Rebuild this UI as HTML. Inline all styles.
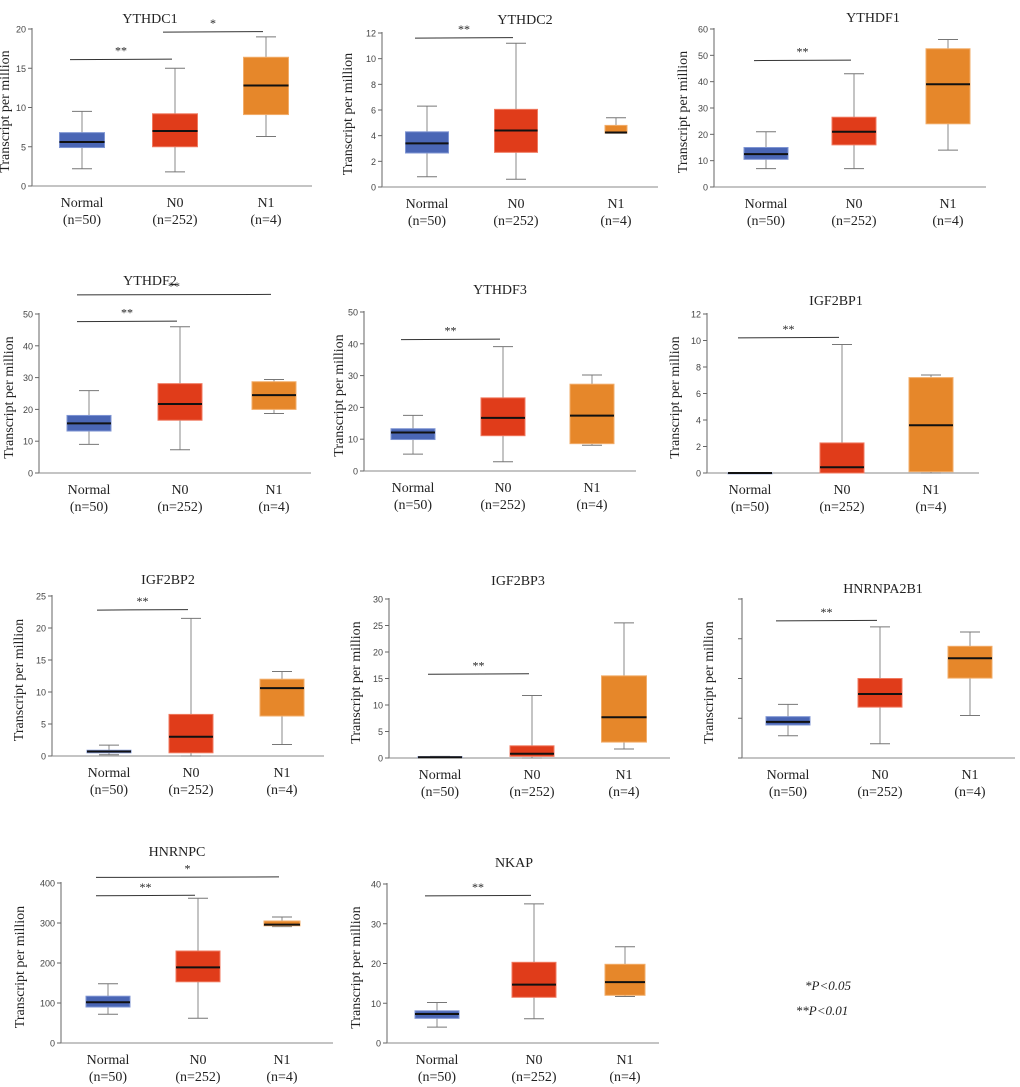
<!DOCTYPE html>
<html><head><meta charset="utf-8">
<style>
html,body{margin:0;padding:0;background:#fff;}
svg{display:block;}
text{font-family:"Liberation Serif",serif;fill:#222;}
.tick{font-family:"Liberation Sans",sans-serif;font-size:9px;fill:#444;}
</style></head>
<body>
<svg id="fig" width="1020" height="1087" viewBox="0 0 1020 1087" xmlns="http://www.w3.org/2000/svg"></svg>
<script>
const categories = ["Normal","N0","N1"];
const sampleCounts = ["(n=50)","(n=252)","(n=4)"];
const geneNames = ["YTHDC1","YTHDC2","YTHDF1","YTHDF2","YTHDF3","IGF2BP1","IGF2BP2","IGF2BP3","HNRNPA2B1","HNRNPC","NKAP"];
const yAxisMax = [20,12,60,50,50,12,25,30,4,400,40];
const tickStep = [5,2,10,10,10,2,5,5,1,100,10];
const showTickLabels = [1,1,1,1,1,1,1,1,0,1,1];
// per panel: [Normal, N0, N1]
const whiskerLow = [[2.2,1.8,6.3],[0.8,0.6,4.2],[7,7,14],[9,7.3,18.7],[5.3,2.9,8.1],[0,0,0],[0.2,0,1.8],[0,0,1.7],[0.56,0.36,1.07],[72,62,291],[4,6.1,11.7]];
const q1Values = [[4.9,5.0,9.1],[2.65,2.7,4.2],[10.5,16,24],[13.2,16.6,20],[9.9,11.1,8.6],[0,0,0.1],[0.5,0.5,6.25],[0.1,0.3,3.0],[0.83,1.28,2.01],[90,153,293],[6.2,11.5,12.0]];
const medianValues = [[5.6,7.0,12.8],[3.4,4.4,4.25],[12.5,21,39],[15.6,21.7,24.5],[12.1,16.7,17.4],[0,0.43,3.6],[0.7,3.0,10.6],[0.15,0.8,7.7],[0.91,1.61,2.51],[102,189,296],[7.3,14.7,15.3]];
const q3Values = [[6.8,9.2,16.4],[4.3,6.05,4.8],[15,26.5,52.5],[18.1,28.1,28.7],[13.3,23,27.3],[0,2.27,7.2],[0.9,6.5,12],[0.25,2.3,15.5],[1.04,2.0,2.81],[117,230,305],[8.1,20.3,19.8]];
const whiskerHigh = [[9.5,15,19],[6.3,11.2,5.4],[21,43,56],[25.9,46,29.4],[17.5,39.1,30.2],[0,9.7,7.4],[1.7,21.5,13.2],[0.3,11.8,25.5],[1.35,3.3,3.17],[148,362,315],[10.2,35,24.2]];
// significance bars
const sigPanels = [0,0,1,2,3,3,4,5,6,7,8,9,9,10];
const sigFrom = [0,1,0,0,0,0,0,0,0,0,0,0,0,0];
const sigTo = [1,2,1,1,1,2,1,1,1,1,1,1,2,1];
const sigValue = [16.1,19.6,11.6,48,47.6,56,41.3,10.2,22.8,15.8,3.45,368,414,37];
const sigLabel = ["**","*","**","**","**","**","**","**","**","**","**","**","*","**"];

// layout (positions only)
const layout = [
 {ax:32, y0:186, yt:29, cx:[82,175,266], tx:150, ty:18, w:[45,45,45], yx:4, xl:280},
 {ax:382, y0:187, yt:33, cx:[427,516,616], tx:525, ty:19, w:[43,43,22], yx:347, xl:276},
 {ax:714, y0:187, yt:29, cx:[766,854,948], tx:873, ty:17, w:[44,44,44], yx:682, xl:272},
 {ax:39, y0:473, yt:314, cx:[89,180,274], tx:150, ty:280, w:[44,44,44], yx:8, xl:272},
 {ax:364, y0:471, yt:312, cx:[413,503,592], tx:500, ty:289, w:[44,44,44], yx:338, xl:272},
 {ax:707, y0:473, yt:314, cx:[750,842,931], tx:836, ty:300, w:[44,44,44], yx:674, xl:272},
 {ax:52, y0:756, yt:596, cx:[109,191,282], tx:168, ty:579, w:[44,44,44], yx:18, xl:272},
 {ax:389, y0:758, yt:599, cx:[440,532,624], tx:518, ty:580, w:[44,44,45], yx:355, xl:281},
 {ax:742, y0:758, yt:599, cx:[788,880,970], tx:883, ty:588, w:[44,44,44], yx:708, xl:273},
 {ax:61, y0:1043, yt:883, cx:[108,198,282], tx:177, ty:851, w:[44,44,36], yx:19, xl:272},
 {ax:387, y0:1043, yt:884, cx:[437,534,625], tx:514, ty:862, w:[44,44,40], yx:355, xl:272}
];
const fills = ["#4a66b5","#e03c1a","#e6872a"];
const strokes = ["#7f95d3","#f07a60","#f2ad6a"];

const NS = "http://www.w3.org/2000/svg";
const svg = document.getElementById("fig");
function mk(tag, attrs, parent){
  const e = document.createElementNS(NS, tag);
  for (const k in attrs) e.setAttribute(k, attrs[k]);
  (parent||svg).appendChild(e);
  return e;
}

geneNames.forEach((gene, p) => {
  const L = layout[p];
  const g = mk("g", {});
  
  
  const yScale = v => L.y0 - (v / yAxisMax[p]) * (L.y0 - L.yt);

  const title = mk("text", {x:L.tx, y:L.ty+5, "text-anchor":"middle", "font-size":"14"}, g);
  title.textContent = gene;
  
  

  const yax = mk("line", {x1:L.ax, x2:L.ax, y1:L.yt-1, y2:L.y0, stroke:"#666", "stroke-width":1}, g);
  
  
  const xax = mk("line", {x1:L.ax, x2:L.ax+L.xl, y1:L.y0, y2:L.y0, stroke:"#888", "stroke-width":1}, g);
  
  

  for (let v = 0; v <= yAxisMax[p] + 1e-9; v += tickStep[p]) {
    const y = yScale(v);
    const tk = mk("line", {x1:L.ax-4, x2:L.ax, y1:y, y2:y, stroke:"#666"}, g);
    
    
    if (showTickLabels[p]) {
      const t = mk("text", {x:L.ax-6, y:y+3.5, "text-anchor":"end", class:"tick"}, g);
      t.textContent = String(Math.round(v*100)/100);
      
      
    }
  }

  const ytx = L.yx + 5, ytyc = (L.y0 + L.yt)/2 + 4;
  const yt = mk("text", {x:ytx, y:ytyc, "text-anchor":"middle", "font-size":"14", transform:`rotate(-90 ${ytx} ${ytyc})`}, g);
  yt.textContent = "Transcript per million";
  
  

  categories.forEach((cat, i) => {
    const cx = L.cx[i], hw = L.w[i]/2;
    const lo = yScale(whiskerLow[p][i]), q1 = yScale(q1Values[p][i]), md = yScale(medianValues[p][i]), q3 = yScale(q3Values[p][i]), hi = yScale(whiskerHigh[p][i]);
    const wk = mk("line", {x1:cx, x2:cx, y1:hi, y2:lo, stroke:"#888", "stroke-width":1}, g);
    
    
    const capH = mk("line", {x1:cx-10, x2:cx+10, y1:hi, y2:hi, stroke:"#777"}, g);
    
    
    const capL = mk("line", {x1:cx-10, x2:cx+10, y1:lo, y2:lo, stroke:"#777"}, g);
    
    
    const bx = mk("rect", {x:cx-hw, y:q3, width:L.w[i], height:Math.max(q1-q3,0.8), fill:fills[i], stroke:strokes[i], "stroke-width":1}, g);
    
    
    const md1 = mk("line", {x1:cx-hw, x2:cx+hw, y1:md, y2:md, stroke:"#111", "stroke-width":2}, g);
    
    
    const c1 = mk("text", {x:cx, y:L.y0+21, "text-anchor":"middle", "font-size":"14"}, g);
    c1.textContent = cat;
    
    
    const c2 = mk("text", {x:cx, y:L.y0+38, "text-anchor":"middle", "font-size":"14"}, g);
    c2.textContent = sampleCounts[i];
    
    
  });
});

sigPanels.forEach((p, k) => {
  const L = layout[p];
  const y = L.y0 - (sigValue[k] / yAxisMax[p]) * (L.y0 - L.yt);
  const x1 = L.cx[sigFrom[k]] - 12, x2 = L.cx[sigTo[k]] - 3;
  const ln = mk("line", {x1:x1, x2:x2, y1:y, y2:y-0.5, stroke:"#333", "stroke-width":1});
  
  
  const t = mk("text", {x:(x1+x2)/2, y:y-5, "text-anchor":"middle", "font-size":"12"});
  t.textContent = sigLabel[k];
  
  
});

const n1 = mk("text", {x:828, y:990, "text-anchor":"middle", "font-size":"13", "font-style":"italic"});
n1.textContent = "*P<0.05";


const n2 = mk("text", {x:822, y:1015, "text-anchor":"middle", "font-size":"13", "font-style":"italic"});
n2.textContent = "**P<0.01";


</script>
</body></html>
